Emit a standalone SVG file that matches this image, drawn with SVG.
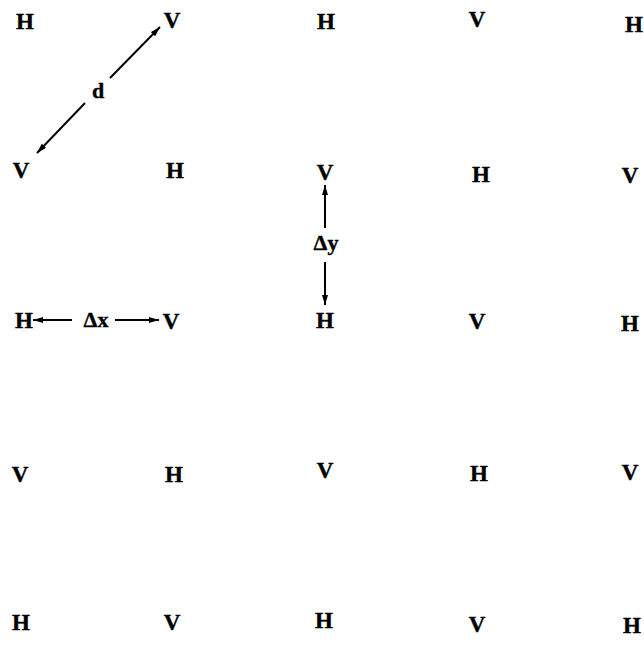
<svg xmlns="http://www.w3.org/2000/svg" width="644" height="654" viewBox="0 0 644 654">
<style>
text{font-family:"Liberation Serif","Times New Roman",serif;font-weight:bold;font-size:23px;fill:#000;text-anchor:middle;stroke:#000;stroke-width:0.4}
.lbl{font-size:22px}
.c{stroke:#000;stroke-width:2;fill:none;marker-end:url(#ah)}
</style>
<defs>
<marker id="ah" viewBox="0 0 10 6" refX="10" refY="3" markerWidth="10" markerHeight="6" orient="auto" markerUnits="userSpaceOnUse">
<path d="M0,0 L10,3 L0,6 z" fill="#000"/>
</marker>
</defs>
<rect width="644" height="654" fill="#fff"/>
<g id="r1c1"><text x="25" y="29">H</text></g>
<g id="r1c2"><text x="172" y="28">V</text></g>
<g id="r1c3"><text x="326" y="29">H</text></g>
<g id="r1c4"><text x="477" y="27">V</text></g>
<g id="r1c5"><text x="634" y="32">H</text></g>
<g id="r2c1"><text x="21" y="178">V</text></g>
<g id="r2c2"><text x="175" y="178">H</text></g>
<g id="r2c3"><text x="325" y="180">V</text></g>
<g id="r2c4"><text x="481" y="182">H</text></g>
<g id="r2c5"><text x="630" y="183">V</text></g>
<g id="r3c1"><text x="24" y="328">H</text></g>
<g id="r3c2"><text x="171" y="329">V</text></g>
<g id="r3c3"><text x="325" y="328">H</text></g>
<g id="r3c4"><text x="477" y="329">V</text></g>
<g id="r3c5"><text x="630" y="331">H</text></g>
<g id="r4c1"><text x="20" y="482">V</text></g>
<g id="r4c2"><text x="174" y="482">H</text></g>
<g id="r4c3"><text x="325" y="478">V</text></g>
<g id="r4c4"><text x="479" y="481">H</text></g>
<g id="r4c5"><text x="630" y="480">V</text></g>
<g id="r5c1"><text x="21" y="630">H</text></g>
<g id="r5c2"><text x="172" y="630">V</text></g>
<g id="r5c3"><text x="324" y="628">H</text></g>
<g id="r5c4"><text x="477" y="632">V</text></g>
<g id="r5c5"><text x="632" y="633">H</text></g>
<g id="labels">
<text class="lbl" x="98" y="98">d</text>
<text class="lbl" x="326" y="250">Δy</text>
<text class="lbl" x="96" y="327">Δx</text>
</g>
<g id="connectors">
<line class="c" x1="110" y1="78" x2="160" y2="27"/>
<line class="c" x1="85" y1="103" x2="37" y2="153"/>
<line class="c" x1="325" y1="228" x2="325" y2="185"/>
<line class="c" x1="325" y1="262" x2="325" y2="305"/>
<line class="c" x1="72" y1="320" x2="33" y2="320"/>
<line class="c" x1="115" y1="320" x2="159" y2="320"/>
</g>
</svg>
